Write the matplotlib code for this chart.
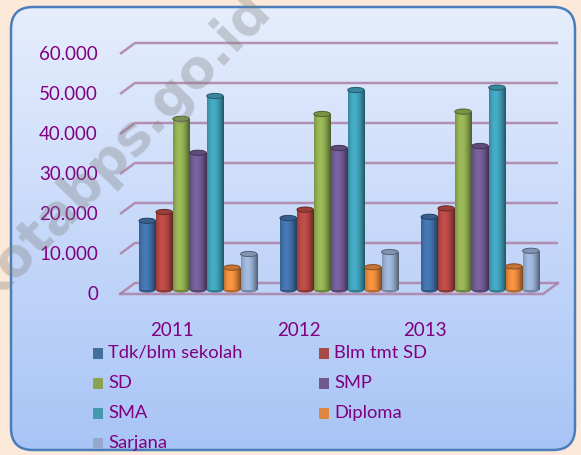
import numpy as np
import matplotlib
matplotlib.use('Agg')
import matplotlib.pyplot as plt
from matplotlib.patches import FancyBboxPatch, Ellipse, Rectangle
from matplotlib.colors import to_rgb

# data
years = ['2011', '2012', '2013']
categories = ['Tdk/blm sekolah', 'Blm tmt SD', 'SD', 'SMP', 'SMA', 'Diploma', 'Sarjana']
tdk_blm_sekolah = [17300, 18000, 18300]
blm_tmt_sd = [19500, 20100, 20400]
sd = [42800, 44000, 44600]
smp = [34300, 35500, 36000]
sma = [48500, 50000, 50600]
diploma = [5600, 5700, 5900]
sarjana = [9000, 9500, 9800]
series = [tdk_blm_sekolah, blm_tmt_sd, sd, smp, sma, diploma, sarjana]
y_ticks = [0, 10000, 20000, 30000, 40000, 50000, 60000]
y_labels = ['0', '10.000', '20.000', '30.000', '40.000', '50.000', '60.000']

colors = ['#4474AE', '#BA4A46', '#95B354', '#755D99', '#43A5BF', '#F08E3E', '#9CB4D8']
legend_colors = ['#44709F', '#A84A48', '#8AA54F', '#70598F', '#4399AE', '#DE8540', '#94A9CB']
text_color = '#800080'
grid_color = '#AD80A5'
FONT = 'Lato'

W, H = 581, 455
fig = plt.figure(figsize=(W / 100, H / 100), dpi=100)
fig.patch.set_facecolor('#FDE9D9')

# background panel (pixel coordinates)
bg = fig.add_axes([0, 0, 1, 1])
bg.set_xlim(0, W)
bg.set_ylim(H, 0)
bg.axis('off')
box = FancyBboxPatch((11, 7), 564, 443, boxstyle='round,pad=0,rounding_size=22',
                     facecolor='none', edgecolor='none')
bg.add_patch(box)
top, bot = np.array(to_rgb('#E6EEFD')), np.array(to_rgb('#A8C4F6'))
t = np.linspace(0, 1, 256)[:, None]
grad = (top * (1 - t) + bot * t)[:, None, :]
im = bg.imshow(grad, extent=[11, 575, 450, 7], aspect='auto', zorder=1)
im.set_clip_path(box)
bg.add_patch(FancyBboxPatch((11, 7), 564, 443, boxstyle='round,pad=0,rounding_size=22',
                            facecolor='none', edgecolor='#4A7EBB', lw=1.8, zorder=2))
bg.set_xlim(0, W)
bg.set_ylim(H, 0)

# chart axes
ax = fig.add_axes([100 / W, 155 / H, 470 / W, 270 / H])
ax.patch.set_visible(False)
ax.axis('off')
x0, x1 = -0.695, 2.638
y0, y1 = -2500, 65000

front, back = -1000, 1750
xf, xb, xr = -0.553, -0.447, 2.553
for v, lab in zip(y_ticks, y_labels):
    ax.plot([xf, xb, xr], [v + front, v + back, v + back], color=grid_color, lw=1.8,
            alpha=0.85, solid_capstyle='butt', zorder=1)
    ax.text(-0.71, v + front, lab, ha='right', va='center', fontsize=13.5,
            color=text_color, family=FONT)
# floor
ax.plot([xf, xr - 0.106, xr], [front, front, back], color=grid_color, lw=1.8,
        alpha=0.85, zorder=1)

# cylinders
bw = 0.117
pitch = 0.12
tt = np.linspace(0, 1, 64)
shade = 0.58 + 0.47 * np.cos((tt - 0.38) * np.pi / 1.15)
for j, (vals, c) in enumerate(zip(series, colors)):
    base = np.array(to_rgb(c))
    row = np.clip(base[None, :] * shade[:, None], 0, 1)
    img = np.repeat(row[None, :, :], 2, axis=0)
    xs = np.arange(len(years)) + (j - 3) * pitch
    bars = ax.bar(xs, vals, width=bw, color=c, zorder=3 + j)
    for b in bars:
        bx, bh = b.get_x(), b.get_height()
        cx = bx + bw / 2
        botel = Ellipse((cx, 0), bw, 1300, facecolor=base * 0.75, edgecolor='none', zorder=3 + j)
        ax.add_patch(botel)
        gi = ax.imshow(img, extent=[bx, bx + bw, 0, bh], aspect='auto', zorder=3 + j)
        gi.set_clip_path(b)
        cap = Ellipse((cx, bh), bw, 1300, facecolor=np.clip(base * 0.82, 0, 1),
                      edgecolor=base * 0.55, lw=0.7, zorder=3 + j)
        ax.add_patch(cap)

ax.set_xlim(x0, x1)
ax.set_ylim(y0, y1)

# year labels (shifted for the 3d perspective)
for i, yr in enumerate(years):
    ax.text(i - 0.184 - 0.103 * i, -10250, yr, ha='center', va='center', fontsize=13.5,
            color=text_color, family=FONT, clip_on=False)

# legend
for i, (cat, lc) in enumerate(zip(categories, legend_colors)):
    row, col = i // 2, i % 2
    lx = 93 if col == 0 else 319
    ly = 353 + 30 * row
    bg.add_patch(Rectangle((lx, ly - 5), 10, 11, facecolor=lc, edgecolor='none', zorder=3))
    bg.text(lx + 15, ly, cat, ha='left', va='center', fontsize=13.2, color=text_color,
            family=FONT, zorder=3)

# watermark (cut off at the left edge, as in the original)
fig.text(120 / W, 1 - 147 / H, 'kotabps.go.id', rotation=46, ha='center', va='center',
         fontsize=38, fontweight='bold', color='#7F7F7F', alpha=0.34,
         family='DejaVu Sans', rotation_mode='anchor')

fig.savefig('out.png', dpi=100, facecolor=fig.get_facecolor())
